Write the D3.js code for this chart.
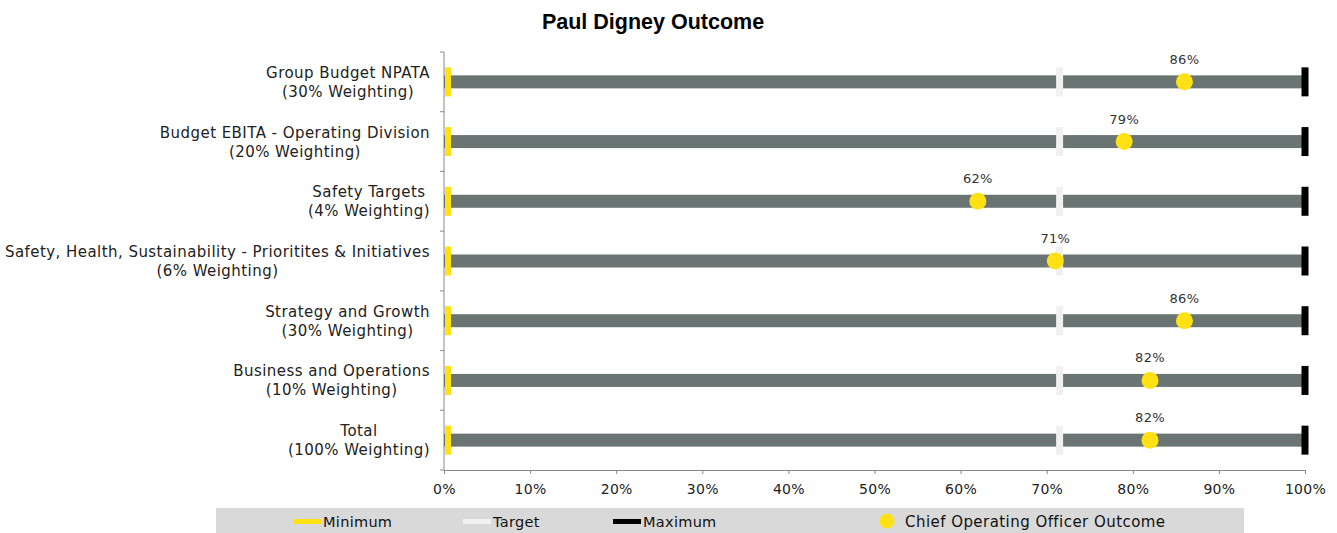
<!DOCTYPE html>
<html>
<head>
<meta charset="utf-8">
<script src="https://cdn.jsdelivr.net/npm/d3@7"></script>
<style>
  body { margin: 0; background: #fff; }
  text { font-family: "DejaVu Sans", Verdana, sans-serif; }
</style>
</head>
<body>
<div id="chart"></div>
<script>
// chart data
var categories = [
  ["Group Budget NPATA", "(30% Weighting)"],
  ["Budget EBITA - Operating Division", "(20% Weighting)"],
  ["Safety Targets ", "(4% Weighting)"],
  ["Safety, Health, Sustainability - Prioritites & Initiatives", "(6% Weighting)"],
  ["Strategy and Growth", "(30% Weighting)"],
  ["Business and Operations", "(10% Weighting)"],
  ["Total", "(100% Weighting)"]
];
var outcome = [86, 79, 62, 71, 86, 82, 82];
var minimum = [0, 0, 0, 0, 0, 0, 0];
var target = [71.5, 71.5, 71.5, 71.5, 71.5, 71.5, 71.5];
var maximum = [100, 100, 100, 100, 100, 100, 100];
var xTicks = [0, 10, 20, 30, 40, 50, 60, 70, 80, 90, 100];
var legendItems = ["Minimum", "Target", "Maximum", "Chief Operating Officer Outcome"];

// set the dimensions
var width = 1337;
var height = 533;
var margin = { left: 444, right: 32, top: 52, bottom: 63 };

var svg = d3.select("#chart")
    .append("svg")
    .attr("width", width)
    .attr("height", height);

var x = d3.scaleLinear()
    .domain([0, 100])
    .range([margin.left, width - margin.right]);

var y = d3.scaleBand()
    .domain(d3.range(categories.length))
    .range([margin.top, height - margin.bottom]);

var yellow = "#ffe114";
var grey = "#6a7473";

// title
svg.append("text")
    .attr("x", 653)
    .attr("y", 29)
    .attr("text-anchor", "middle")
    .style("font-family", "Arial, 'Liberation Sans', sans-serif")
    .style("font-weight", "bold")
    .style("font-size", "21.5px")
    .style("fill", "#000")
    .text("Paul Digney Outcome");

// x axis
var xAxis = svg.append("g")
    .attr("transform", "translate(0," + (height - margin.bottom) + ")")
    .call(d3.axisBottom(x).tickValues(xTicks).tickSize(4).tickSizeOuter(0)
        .tickFormat(function(d) { return d + "%"; }));
xAxis.select(".domain").attr("stroke", "#888");
xAxis.selectAll(".tick line").attr("stroke", "#888");
xAxis.selectAll(".tick text")
    .attr("dy", "1.2em")
    .style("font-family", "'DejaVu Sans', Verdana, sans-serif")
    .style("font-size", "14px")
    .style("letter-spacing", "0.3px")
    .style("fill", "#222");

// y axis line + ticks on band boundaries
var yAxisG = svg.append("g");
yAxisG.append("line")
    .attr("x1", x(0)).attr("x2", x(0))
    .attr("y1", y.range()[0]).attr("y2", y.range()[1])
    .attr("stroke", "#888");
var bounds = d3.range(categories.length + 1).map(function(i) { return y.range()[0] + i * y.step(); });
yAxisG.selectAll(".ytick")
    .data(bounds)
    .enter()
    .append("line")
    .attr("x1", x(0) - 4).attr("x2", x(0))
    .attr("y1", function(d) { return d; })
    .attr("y2", function(d) { return d; })
    .attr("stroke", "#888");

// category labels (two lines, centred on each other, right aligned as a block)
var labelRight = 430;
categories.forEach(function(c, i) {
    var cy = y(i) + y.bandwidth() / 2;
    var g = svg.append("g")
        .style("font-size", "15px")
        .style("letter-spacing", "0.45px")
        .style("fill", "#222");
    var t1 = g.append("text").attr("y", cy - 4).text(c[0]).attr("text-anchor", "middle");
    var t2 = g.append("text").attr("y", cy + 15).text(c[1]).attr("text-anchor", "middle");
    var w = Math.max(t1.node().getComputedTextLength(), t2.node().getComputedTextLength());
    t1.attr("x", labelRight - w / 2);
    t2.attr("x", labelRight - w / 2);
});

var rows = d3.range(categories.length);
var barH = 13;
var markH = 29;
var markW = 7;

// grey range bars
svg.append("g").selectAll("rect")
    .data(rows)
    .enter()
    .append("rect")
    .attr("x", function(i) { return x(minimum[i]); })
    .attr("width", function(i) { return x(maximum[i]) - x(minimum[i]); })
    .attr("y", function(i) { return y(i) + y.bandwidth() / 2 - barH / 2; })
    .attr("height", barH)
    .style("fill", grey);

// target markers
svg.append("g").selectAll("rect")
    .data(rows)
    .enter()
    .append("rect")
    .attr("x", function(i) { return x(target[i]) - markW / 2; })
    .attr("width", markW)
    .attr("y", function(i) { return y(i) + y.bandwidth() / 2 - markH / 2; })
    .attr("height", markH)
    .style("fill", "#f0f0f0");

// minimum markers
svg.append("g").selectAll("rect")
    .data(rows)
    .enter()
    .append("rect")
    .attr("x", function(i) { return x(minimum[i]) + 1; })
    .attr("width", markW - 1)
    .attr("y", function(i) { return y(i) + y.bandwidth() / 2 - markH / 2; })
    .attr("height", markH)
    .style("fill", yellow);

// maximum markers
svg.append("g").selectAll("rect")
    .data(rows)
    .enter()
    .append("rect")
    .attr("x", function(i) { return x(maximum[i]) - markW / 2; })
    .attr("width", markW)
    .attr("y", function(i) { return y(i) + y.bandwidth() / 2 - markH / 2; })
    .attr("height", markH)
    .style("fill", "#000");

// outcome dots
svg.append("g").selectAll("circle")
    .data(rows)
    .enter()
    .append("circle")
    .attr("cx", function(i) { return x(outcome[i]); })
    .attr("cy", function(i) { return y(i) + y.bandwidth() / 2; })
    .attr("r", 8.5)
    .style("fill", yellow);

// outcome labels
svg.append("g").selectAll("text")
    .data(rows)
    .enter()
    .append("text")
    .attr("x", function(i) { return x(outcome[i]); })
    .attr("y", function(i) { return y(i) + y.bandwidth() / 2 - 18; })
    .attr("text-anchor", "middle")
    .style("font-size", "13px")
    .style("letter-spacing", "0.3px")
    .style("fill", "#333")
    .text(function(i) { return outcome[i] + "%"; });

// legend
var legend = svg.append("g");
legend.append("rect")
    .attr("x", 216).attr("y", 508)
    .attr("width", 1028).attr("height", 25)
    .style("fill", "#d9d9d9");
var legendX = [293, 463, 613, 887];
var legendColors = [yellow, "#f2f2f2", "#000", yellow];
legendItems.forEach(function(name, i) {
    if (i < 3) {
        legend.append("rect")
            .attr("x", legendX[i]).attr("y", 519)
            .attr("width", 28).attr("height", 5)
            .style("fill", legendColors[i]);
        legend.append("text")
            .attr("x", legendX[i] + 30).attr("y", 527)
            .style("font-size", "14.5px").style("letter-spacing", "0.3px").style("fill", "#111")
            .text(name);
    } else {
        legend.append("circle")
            .attr("cx", legendX[i]).attr("cy", 521)
            .attr("r", 7.5)
            .style("fill", legendColors[i]);
        legend.append("text")
            .attr("x", legendX[i] + 18).attr("y", 527)
            .style("font-size", "15px").style("letter-spacing", "0.45px").style("fill", "#111")
            .text(name);
    }
});
</script>
</body>
</html>
